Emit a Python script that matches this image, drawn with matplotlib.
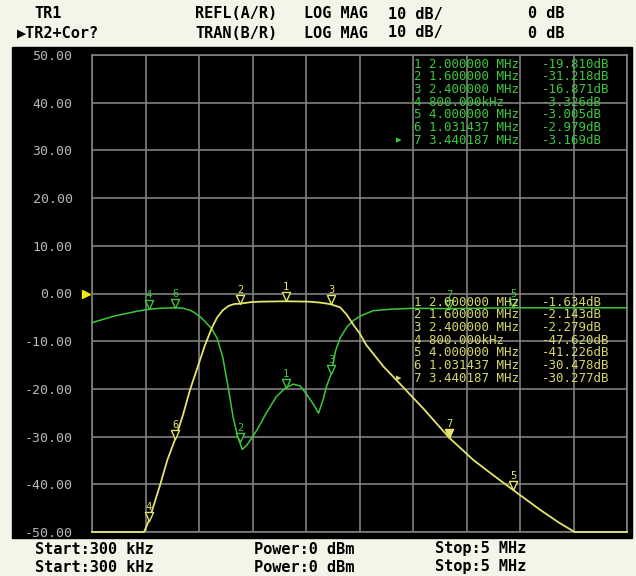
import numpy as np
import matplotlib.pyplot as plt
from matplotlib.patches import Rectangle
from matplotlib.path import Path
import matplotlib.transforms as mtransforms

# trace data (MHz, dB)
refl_f = [0.30, 0.40, 0.50, 0.60, 0.70, 0.80, 0.90, 1.031, 1.10, 1.16, 1.20, 1.25, 1.29,
          1.32, 1.35, 1.40, 1.45, 1.50, 1.54, 1.58, 1.62, 1.66, 1.70, 1.75, 1.83, 1.92,
          2.00, 2.07, 2.13, 2.19, 2.25, 2.29, 2.33, 2.36, 2.40, 2.44, 2.48, 2.54, 2.60,
          2.66, 2.77, 2.92, 3.12, 3.44, 4.00, 4.50, 5.00]
refl_db = [-6.1, -5.4, -4.7, -4.2, -3.7, -3.3, -3.1, -2.98, -3.1, -3.5, -4.0, -4.9, -5.8,
           -6.6, -7.3, -9.4, -13.5, -20.2, -26.0, -30.0, -32.7, -31.8, -30.4, -28.6, -25.1, -21.6,
           -19.8, -19.0, -19.4, -21.3, -23.4, -25.1, -22.3, -19.5, -16.9, -12.0, -9.3, -7.0, -5.6,
           -4.7, -3.6, -3.3, -3.1, -3.17, -3.0, -3.0, -3.0]

tran_f = [0.30, 0.757, 0.80, 0.90, 0.962, 1.031, 1.10, 1.161, 1.22, 1.29, 1.351, 1.40, 1.45,
          1.50, 1.55, 1.60, 1.70, 1.80, 2.00, 2.20, 2.30, 2.36, 2.40, 2.48, 2.54, 2.60, 2.65,
          2.71, 2.86, 3.00, 3.21, 3.44, 3.65, 3.82, 4.00, 4.24, 4.40, 4.54, 5.00]
tran_db = [-50.0, -50.0, -47.6, -40.0, -34.9, -30.5, -25.4, -20.2, -16.0, -11.0, -7.3, -5.0, -3.5,
           -2.6, -2.2, -2.14, -1.8, -1.7, -1.63, -1.7, -1.9, -2.1, -2.28, -2.9, -4.5, -6.7, -8.3,
           -10.8, -15.3, -18.8, -24.1, -30.28, -34.9, -38.0, -41.2, -45.4, -48.0, -50.0, -50.0]

# marker table (same stimulus for both channels)
mk_num = [1, 2, 3, 4, 5, 6, 7]
mk_f = [2.0, 1.6, 2.4, 0.8, 4.0, 1.031437, 3.440187]
mk_refl = [-19.810, -31.218, -16.871, -3.326, -3.005, -2.979, -3.169]
mk_tran = [-1.634, -2.143, -2.279, -47.620, -41.226, -30.478, -30.277]

yticks = list(range(-50, 51, 10))

GREEN = '#3cc83c'
YELLOW = '#e4e46c'
YTEXT = '#d6d66a'
GRID = '#808080'
BG = '#f4f4e8'
W, H = 636, 576

fig = plt.figure(figsize=(W / 100, H / 100), dpi=100, facecolor=BG)

def fx(x):
    return x / W

def fy(y):
    return 1 - y / H

# black screen panel
fig.patches.append(Rectangle((fx(12), fy(538)), fx(620), (538 - 47) / H,
                             transform=fig.transFigure, color='black', zorder=-10))

ax = fig.add_axes([fx(92), fy(532), 535 / W, 477 / H])
ax.set_facecolor('black')
ax.set_xlim(0.3, 5.0)
ax.set_ylim(-50, 50)
ax.set_xticks(np.linspace(0.3, 5.0, 11))
ax.set_xticklabels([])
ax.set_yticks(yticks)
ax.set_yticklabels([f"{v:.2f}" for v in yticks], family='DejaVu Sans Mono', fontsize=9.5)
ax.tick_params(length=0, pad=14, colors='#b8b8b8')
ax.grid(True, color=GRID, lw=1.2)
for s in ax.spines.values():
    s.set_color(GRID)
    s.set_linewidth(1.2)

ax.plot(refl_f, refl_db, color=GREEN, lw=1.1, zorder=3, clip_on=False)
ax.plot(tran_f, tran_db, color=YELLOW, lw=1.3, zorder=3, clip_on=False)

# downward triangle with its tip on the data point
tri = Path([(0, 0), (-0.45, 1), (0.45, 1), (0, 0)],
           [Path.MOVETO, Path.LINETO, Path.LINETO, Path.CLOSEPOLY])

def markers(vals, color, active=None):
    for n, f, v in zip(mk_num, mk_f, vals):
        face = color if n == active else 'black'
        ax.plot(f, v, marker=tri, ms=13, mec=color, mfc=face, mew=1.0, zorder=4,
                clip_on=False)
        ax.annotate(str(n), (f, v), xytext=(0, 6.5), textcoords='offset points',
                    ha='center', va='bottom', color=color, fontsize=7.5,
                    family='DejaVu Sans Mono', zorder=4)

markers(mk_refl, GREEN)
markers(mk_tran, YELLOW, active=7)

# reference level pointer
trans = mtransforms.blended_transform_factory(ax.transAxes, ax.transData)
ax.plot(-0.012, 0, marker='>', ms=6, color='#f0f000', transform=trans, clip_on=False)

def freq_txt(f):
    if f < 1:
        return f"{f * 1000:.3f}kHz"
    return f"{f:.6f} MHz"

def table(vals, color, y0):
    for i, (n, f, v) in enumerate(zip(mk_num, mk_f, vals)):
        y = y0 + i * 12.7
        fig.text(fx(414), fy(y), f"{n} {freq_txt(f)}", color=color, fontsize=9,
                 family='DejaVu Sans Mono', va='center', zorder=6)
        fig.text(fx(542), fy(y), f"{v:.3f}dB", color=color, fontsize=9,
                 family='DejaVu Sans Mono', va='center', zorder=6)
    fig.text(fx(396), fy(y0 + 6 * 12.7), '\u25b8', color=color, fontsize=8,
             va='center', zorder=6)

table(mk_refl, GREEN, 64)
table(mk_tran, YTEXT, 302)

# header and footer
hdr = dict(fontsize=11, family='DejaVu Sans Mono', weight='bold', color='black', va='center')
fig.text(fx(34), fy(14), 'TR1', **hdr)
fig.text(fx(17), fy(33), '\u25b6TR2+Cor?', **hdr)
for y, meas in [(14, 'REFL(A/R)'), (33, 'TRAN(B/R)')]:
    fig.text(fx(195), fy(y), meas, **hdr)
    fig.text(fx(304), fy(y), 'LOG MAG', **hdr)
    fig.text(fx(388), fy(y), '10 dB/', **hdr)
    fig.text(fx(528), fy(y), '0 dB', **hdr)
for y in (549, 567):
    fig.text(fx(35), fy(y), 'Start:300 kHz', **hdr)
    fig.text(fx(254), fy(y), 'Power:0 dBm', **hdr)
    fig.text(fx(435), fy(y), 'Stop:5 MHz', **hdr)

fig.savefig('out.png', dpi=100, facecolor=BG)
